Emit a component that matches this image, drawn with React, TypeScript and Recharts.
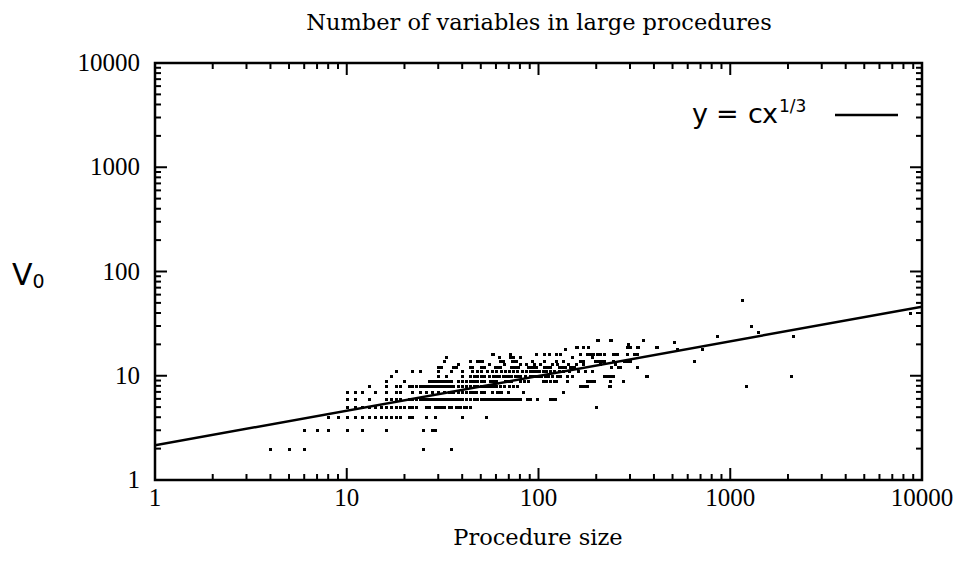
import React from 'react'
import { ScatterChart, Scatter, XAxis, YAxis, ReferenceArea } from 'recharts'

const ROWS: [number, number[]][] = [
  [2, [4, 5, 6, 25, 35]],
  [3, [6, 7, 8, 10, 12, 16, 25, 28, 29]],
  [4, [8, 9, 10, 11, 12, 13, 14, 15, 16, 17, 18, 19, 21, 22, 26, 29, 40, 53]],
  [5, [10, 11, 12, 13, 14, 15, 16, 17, 18, 19, 20, 21, 22, 23, 26, 27, 29, 30, 31, 32, 34, 35, 37, 38, 39, 41, 42, 44, 200]],
  [6, [10, 11, 13, 16, 17, 18, 19, 21, 22, 23, 24, 25, 26, 27, 28, 29, 30, 31, 32, 33, 34, 35, 36, 37, 38, 39, 40, 42, 44, 46, 48, 50, 52, 54, 56, 58, 60, 62, 64, 66, 68, 70, 72, 74, 76, 78, 80, 87, 90, 98, 115, 118, 122]],
  [7, [10, 11, 12, 14, 16, 18, 19, 22, 24, 26, 28, 30, 32, 34, 35, 36, 38, 40, 42, 44, 45, 46, 47, 50, 52, 57, 61, 62, 63, 64, 69, 83, 134]],
  [8, [13, 16, 18, 19, 21, 22, 23, 24, 25, 26, 27, 28, 29, 30, 31, 32, 33, 34, 35, 36, 38, 40, 42, 44, 46, 48, 50, 52, 54, 56, 58, 60, 63, 66, 70, 74, 77, 165, 170, 175, 178, 234, 236, 1203]],
  [9, [16, 20, 27, 28, 29, 30, 31, 32, 33, 34, 35, 38, 40, 42, 44, 45, 46, 47, 48, 50, 51, 52, 56, 57, 58, 59, 60, 67, 68, 70, 72, 80, 84, 88, 105, 110, 115, 120, 124, 140, 180, 186, 190, 195, 236, 275]],
  [10, [17, 30, 33, 40, 44, 46, 48, 50, 52, 55, 58, 60, 62, 65, 68, 70, 72, 75, 78, 80, 85, 90, 93, 95, 98, 100, 103, 108, 112, 118, 125, 130, 140, 150, 220, 226, 230, 236, 245, 362, 366, 2067]],
  [11, [18, 22, 24, 30, 35, 40, 45, 48, 50, 54, 57, 60, 64, 67, 70, 74, 77, 82, 86, 90, 94, 97, 100, 105, 110, 115, 120, 128, 135, 145, 160, 175, 190]],
  [12, [30, 31, 36, 37, 44, 45, 50, 51, 52, 59, 60, 61, 62, 63, 72, 74, 76, 78, 88, 90, 92, 95, 97, 107, 110, 113, 115, 128, 132, 137, 146, 150, 153, 240, 261, 266, 325, 327]],
  [13, [38, 55, 66, 80, 86, 95, 102, 118, 125, 142, 156, 170, 210, 250]],
  [14, [32, 44, 48, 49, 50, 51, 63, 64, 65, 73, 74, 75, 76, 93, 107, 123, 135, 164, 167, 170, 197, 205, 212, 220, 245, 280, 290, 300, 647]],
  [15, [33, 62, 71, 72, 73, 74, 80, 150, 190]],
  [16, [57, 58, 71, 97, 107, 113, 123, 130, 164, 178, 186, 190, 192, 203, 210, 220, 245, 250, 257, 288, 313, 322, 326]],
  [18, [137, 530, 715]],
  [19, [157, 159, 170, 182, 290, 295, 300, 327, 330, 410, 413]],
  [20, [292]],
  [21, [509]],
  [22, [203, 205, 236, 238, 240, 349, 350]],
  [24, [855, 2117]],
  [26, [1390]],
  [30, [1283]],
  [40, [8650]],
  [53, [1156]],
]

// fitted curve y = c x^(1/3), c ~ 2.15 (straight on log-log)
const FIT = [
  { x: 1, y: 2.15 },
  { x: 10000, y: 46 },
]

const LOG_TICKS = [
  1, 2, 3, 4, 5, 6, 7, 8, 9,
  10, 20, 30, 40, 50, 60, 70, 80, 90,
  100, 200, 300, 400, 500, 600, 700, 800, 900,
  1000, 2000, 3000, 4000, 5000, 6000, 7000, 8000, 9000,
  10000,
]

const POINTS = ROWS.flatMap(([v, sizes]) => sizes.map((s) => ({ x: s, y: v })))

const W = 946
const H = 544
const PLOT = { left: 147, right: 914, top: 55, bottom: 472 }
const SERIF = '"Liberation Serif", "Times New Roman", serif'
const WIDE_SERIF = '"DejaVu Serif", serif'
const SANS = '"DejaVu Sans", sans-serif'

const isMajor = (v: number) => Math.abs(Math.log10(v) - Math.round(Math.log10(v))) < 1e-9

const YTick = (props: any) => {
  const { y, payload } = props
  const v = payload.value
  const len = isMajor(v) ? 12 : 6
  return (
    <g>
      <line x1={PLOT.left} x2={PLOT.left + len} y1={y} y2={y} stroke="#000" strokeWidth={2} />
      <line x1={PLOT.right - len} x2={PLOT.right} y1={y} y2={y} stroke="#000" strokeWidth={2} />
      {isMajor(v) && (
        <text x={PLOT.left - 15} y={y} dy={8} textAnchor="end" fontFamily={SERIF} fontSize={25} fill="#000">
          {v}
        </text>
      )}
    </g>
  )
}

const XTick = (props: any) => {
  const { x, payload } = props
  const v = payload.value
  const len = isMajor(v) ? 12 : 6
  return (
    <g>
      <line x1={x} x2={x} y1={PLOT.bottom} y2={PLOT.bottom - len} stroke="#000" strokeWidth={2} />
      <line x1={x} x2={x} y1={PLOT.top} y2={PLOT.top + len} stroke="#000" strokeWidth={2} />
      {isMajor(v) && (
        <text x={x} y={PLOT.bottom + 26} textAnchor="middle" fontFamily={SERIF} fontSize={25} fill="#000">
          {v}
        </text>
      )}
    </g>
  )
}

const Dot = (p: any) => (
  <rect
    x={Math.round(p.cx) - 1}
    y={Math.round(p.cy) - 1}
    width={3}
    height={3}
    fill="#000"
    shapeRendering="crispEdges"
  />
)

export default function App() {
  return (
    <div style={{ position: 'relative', width: W, height: H }}>
      <ScatterChart width={W} height={H} margin={{ top: PLOT.top, right: W - PLOT.right, bottom: 0, left: 0 }}>
        <XAxis
          dataKey="x"
          type="number"
          scale="log"
          domain={[1, 10000]}
          allowDataOverflow
          ticks={LOG_TICKS}
          interval={0}
          tick={<XTick />}
          tickLine={false}
          axisLine={false}
          height={H - PLOT.bottom}
        />
        <YAxis
          dataKey="y"
          type="number"
          scale="log"
          domain={[1, 10000]}
          allowDataOverflow
          ticks={LOG_TICKS}
          interval={0}
          tick={<YTick />}
          tickLine={false}
          axisLine={false}
          width={PLOT.left}
        />
        <Scatter data={POINTS} shape={<Dot />} isAnimationActive={false} />
        <Scatter
          data={FIT}
          line={{ stroke: '#000', strokeWidth: 2.5 }}
          shape={() => <g />}
          isAnimationActive={false}
        />
        <ReferenceArea
          x1={1}
          x2={10000}
          y1={1}
          y2={10000}
          fill="none"
          stroke="#000"
          strokeWidth={2.5}
          ifOverflow="visible"
        />
      </ScatterChart>
      <svg width={W} height={H} style={{ position: 'absolute', left: 0, top: 0, pointerEvents: 'none' }}>
        <text x={531} y={22} textAnchor="middle" fontFamily={WIDE_SERIF} fontSize={22.5} fill="#000">
          Number of variables in large procedures
        </text>
        <text x={530} y={537} textAnchor="middle" fontFamily={WIDE_SERIF} fontSize={22.5} fill="#000">
          Procedure size
        </text>
        <text x={4} y={277} fontFamily={SANS} fontSize={30} fill="#000">
          V<tspan fontSize={19} dy={3}>0</tspan>
        </text>
        <text y={115} fontFamily={SANS} fontSize={27} fill="#000">
          <tspan x={684}>y</tspan>
          <tspan x={708}>=</tspan>
          <tspan x={740}>c</tspan>
          <tspan x={754}>x</tspan>
          <tspan x={771} dy={-11} fontSize={17}>1/3</tspan>
        </text>
        <line x1={827} x2={890} y1={107} y2={107} stroke="#000" strokeWidth={2.5} />
      </svg>
    </div>
  )
}
